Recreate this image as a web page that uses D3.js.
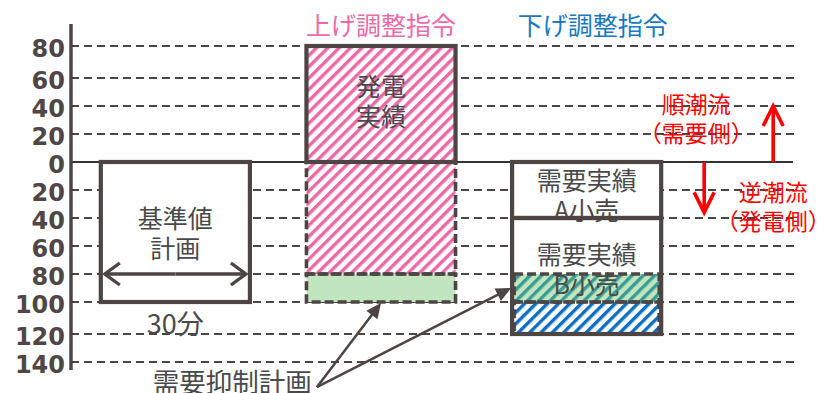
<!DOCTYPE html>
<html>
<head>
<meta charset="utf-8">
<script src="https://cdn.jsdelivr.net/npm/d3@7"></script>
<style>
body { margin: 0; background: #fff; }
svg { display: block; font-family: "Noto Sans CJK JP", "Noto Sans", sans-serif; }
</style>
</head>
<body>
<svg id="chart" width="824" height="393"></svg>
<script>
"use strict";

// tick values (below zero the labels are shown as absolute values)
const tickValues = [80, 60, 40, 20, 0, -20, -40, -60, -80, -100, -120, -140];
const columns = ["基準値計画", "上げ調整指令", "下げ調整指令"];
const titles = [
	{col: "上げ調整指令", text: "上げ調整指令", kind: "up"},
	{col: "下げ調整指令", text: "下げ調整指令", kind: "down"}
];
// blocks in each column: top / bottom value, fill kind, border kind
const blocks = [
	{col: "基準値計画", top: 0, bottom: -100, fill: "white", border: "solid"},
	{col: "上げ調整指令", top: 0, bottom: -80, fill: "pink", border: "dashed"},
	{col: "上げ調整指令", top: -80, bottom: -100, fill: "green", border: "dashed"},
	{col: "上げ調整指令", top: 80, bottom: 0, fill: "pink", border: "solid"},
	{col: "下げ調整指令", top: 0, bottom: -40, fill: "white", border: "solid"},
	{col: "下げ調整指令", top: -40, bottom: -120, fill: "white", border: "solid"},
	{col: "下げ調整指令", top: -80, bottom: -100, fill: "greenhatch", border: "dashed"},
	{col: "下げ調整指令", top: -100, bottom: -120, fill: "blue", border: "dashed"}
];
const blockLabels = [
	{col: "基準値計画", at: -50, lines: ["基準値", "計画"]},
	{col: "上げ調整指令", at: 44, lines: ["発電", "実績"]},
	{col: "下げ調整指令", at: -23, lines: ["需要実績", "A小売"]},
	{col: "下げ調整指令", at: -65, lines: ["需要実績"]},
	{col: "下げ調整指令", at: -86.5, lines: ["B小売"]}
];
const flowLabels = [
	{lines: ["順潮流", "（需要側）"], at: 32},
	{lines: ["逆潮流", "（発電側）"], at: -31}
];

const width = 824, height = 393;
const dark = "#4d4544";
const colors = {
	up: "#ec6aa8", down: "#1a78c2", pink: "#ec68a6", blue: "#0a6fc2",
	green: "#c0e5bf", teal: "#3a9c94", red: "#ff0000", text: "#4a4a4a"
};

const svg = d3.select("#chart");

// hand drawn diagram: the gridlines are not evenly spaced
const y = d3.scaleLinear()
	.domain([80, 60, 0, -80, -100, -120, -140])
	.range([46, 78, 162, 274, 302, 334, 362]);
const x = d3.scaleBand()
	.domain(columns)
	.range([71, 691])
	.paddingInner(0.275)
	.paddingOuter(0.145);
const bw = x.bandwidth();
const axisX = 71, gridEnd = 795;

// hatch patterns
const defs = svg.append("defs");
function hatch(id, color, bg) {
	let p = defs.append("pattern")
		.attr("id", id)
		.attr("patternUnits", "userSpaceOnUse")
		.attr("width", 8).attr("height", 8)
		.attr("patternTransform", "rotate(45)");
	if (bg) p.append("rect").attr("width", 8).attr("height", 8).attr("fill", bg);
	p.append("rect").attr("x", 0).attr("width", 3.4).attr("height", 8).attr("fill", color);
}
hatch("h-pink", colors.pink, "white");
hatch("h-blue", colors.blue, "white");
hatch("h-teal", colors.teal, null);

const fills = {white: "white", pink: "url(#h-pink)", green: colors.green,
	greenhatch: colors.green, blue: "url(#h-blue)"};

// gridlines
svg.append("g").selectAll("line")
	.data(tickValues.filter(d => d != 0))
	.enter().append("line")
	.attr("x1", axisX).attr("x2", gridEnd)
	.attr("y1", d => y(d)).attr("y2", d => y(d))
	.attr("stroke", dark).attr("stroke-width", 2)
	.attr("stroke-dasharray", "8,5");
svg.append("line")
	.attr("x1", axisX).attr("x2", gridEnd - 2)
	.attr("y1", y(0)).attr("y2", y(0))
	.attr("stroke", "#333").attr("stroke-width", 1.8);

// block fills
const gBlocks = svg.append("g");
gBlocks.selectAll("rect.fill")
	.data(blocks)
	.enter().append("rect")
	.attr("class", "fill")
	.attr("x", d => x(d.col))
	.attr("y", d => y(d.top))
	.attr("width", bw)
	.attr("height", d => y(d.bottom) - y(d.top))
	.attr("fill", d => fills[d.fill]);

// labels in blocks
const gLabels = svg.append("g")
	.attr("fill", colors.text)
	.attr("font-size", 25)
	.attr("text-anchor", "middle");
for (let lab of blockLabels) {
	let n = lab.lines.length;
	lab.lines.forEach((t, i) => {
		gLabels.append("text")
			.attr("x", x(lab.col) + bw / 2)
			.attr("y", y(lab.at) + (i - (n - 1) / 2) * 30)
			.attr("dominant-baseline", "central")
			.text(t);
	});
}

// teal stripes go over the B小売 text
gBlocks.selectAll("rect.over")
	.data(blocks.filter(d => d.fill == "greenhatch"))
	.enter().append("rect")
	.attr("class", "over")
	.attr("x", d => x(d.col))
	.attr("y", d => y(d.top))
	.attr("width", bw)
	.attr("height", d => y(d.bottom) - y(d.top))
	.attr("fill", "url(#h-teal)");

// borders: dashed first, solid on top
const borderOrder = blocks.filter(d => d.border == "dashed")
	.concat(blocks.filter(d => d.border == "solid"));
svg.append("g").selectAll("rect")
	.data(borderOrder)
	.enter().append("rect")
	.attr("x", d => x(d.col) + (d.border == "dashed" && d.col == "下げ調整指令" ? 2 : 0))
	.attr("y", d => y(d.top))
	.attr("width", d => bw - (d.border == "dashed" && d.col == "下げ調整指令" ? 4 : 0))
	.attr("height", d => y(d.bottom) - y(d.top))
	.attr("fill", "none")
	.attr("stroke", dark)
	.attr("stroke-width", d => d.border == "solid" ? 4.2 : 3.6)
	.attr("stroke-dasharray", d => d.border == "dashed" ? "9,4" : null);

// column titles
svg.append("g").selectAll("text")
	.data(titles)
	.enter().append("text")
	.attr("x", d => x(d.col) + bw / 2 + (d.kind == "down" ? 6 : 0))
	.attr("y", 24)
	.attr("dominant-baseline", "central")
	.attr("text-anchor", "middle")
	.attr("font-size", 25)
	.attr("fill", d => colors[d.kind])
	.text(d => d.text);

// arrows
function arrow(g, x1, y1, x2, y2, opt) {
	let a = Math.atan2(y2 - y1, x2 - x1);
	let c = Math.cos(a), s = Math.sin(a);
	let bx = x2 - opt.len * c, by = y2 - opt.len * s;
	let l = [bx - opt.half * s, by + opt.half * c];
	let r = [bx + opt.half * s, by - opt.half * c];
	let ex = opt.filled ? bx + 2 * c : x2, ey = opt.filled ? by + 2 * s : y2;
	g.append("line")
		.attr("x1", x1).attr("y1", y1).attr("x2", ex).attr("y2", ey)
		.attr("stroke", opt.color).attr("stroke-width", opt.width);
	if (opt.filled) {
		g.append("path")
			.attr("d", `M${x2},${y2}L${l[0]},${l[1]}L${r[0]},${r[1]}Z`)
			.attr("fill", opt.color);
	} else {
		g.append("path")
			.attr("d", `M${l[0]},${l[1]}L${x2},${y2}L${r[0]},${r[1]}`)
			.attr("fill", "none")
			.attr("stroke", opt.color).attr("stroke-width", opt.width)
			.attr("stroke-linejoin", "miter");
	}
}
const gArrows = svg.append("g");

// 30 minute width arrow
const c1 = "基準値計画";
const open = {len: 15, half: 11, filled: false, color: dark, width: 3.4};
arrow(gArrows, x(c1) + bw / 2, y(-80), x(c1) + 4, y(-80), open);
arrow(gArrows, x(c1) + bw / 2, y(-80), x(c1) + bw - 4, y(-80), open);
gLabels.append("text")
	.attr("x", x(c1) + bw / 2)
	.attr("y", y(-113))
	.attr("font-size", 27)
	.attr("dominant-baseline", "central")
	.text("30分");

// 需要抑制計画 arrows
const start = [x(c1) + 216, y(-158)];
const filled = {len: 15, half: 7, filled: true, color: dark, width: 2.5};
arrow(gArrows, start[0], start[1], x("上げ調整指令") + bw / 2, y(-100) + 1, filled);
arrow(gArrows, start[0], start[1], x("下げ調整指令") - 1, y(-90), filled);
gLabels.append("text")
	.attr("x", x(c1) + 52)
	.attr("y", y(-153))
	.attr("text-anchor", "start")
	.attr("font-size", 26.5)
	.attr("dominant-baseline", "central")
	.text("需要抑制計画");

// flow direction arrows
const c3end = x("下げ調整指令") + bw;
const redOpt = {len: 20, half: 10, filled: false, color: colors.red, width: 3.6};
arrow(gArrows, c3end + 112, y(0), c3end + 112, y(40), redOpt);
arrow(gArrows, c3end + 43, y(0), c3end + 43, y(-36), redOpt);
const gFlow = svg.append("g")
	.attr("fill", colors.red)
	.attr("font-size", 23)
	.attr("text-anchor", "middle");
flowLabels.forEach((f, k) => {
	f.lines.forEach((t, i) => {
		gFlow.append("text")
			.attr("x", c3end + (k == 0 ? 35 : 112))
			.attr("y", y(f.at) + (i - 0.5) * 29)
			.attr("dominant-baseline", "central")
			.text(t);
	});
});

// y axis
const yAxis = d3.axisLeft(y)
	.tickValues(tickValues)
	.tickFormat(d => Math.abs(d))
	.tickSize(0)
	.tickPadding(6);
const gAxis = svg.append("g")
	.attr("transform", `translate(${axisX},0)`)
	.call(yAxis);
gAxis.select(".domain").remove();
gAxis.attr("font-family", null).attr("font-size", null);
gAxis.selectAll("text")
	.style("font-family", "'DejaVu Sans', sans-serif")
	.style("font-weight", "bold")
	.style("font-size", "24px")
	.attr("fill", "#4f4746")
	.attr("dy", "0.42em");
svg.append("line")
	.attr("x1", axisX).attr("x2", axisX)
	.attr("y1", 24).attr("y2", 370)
	.attr("stroke", dark).attr("stroke-width", 3.5);
</script>
</body>
</html>
